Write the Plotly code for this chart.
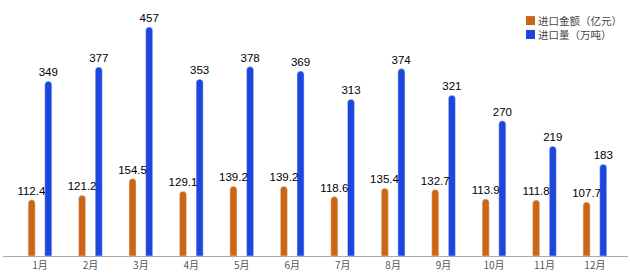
import plotly.graph_objects as go

months = ["1月", "2月", "3月", "4月", "5月", "6月", "7月", "8月", "9月", "10月", "11月", "12月"]
amount = [112.4, 121.2, 154.5, 129.1, 139.2, 139.2, 118.6, 135.4, 132.7, 113.9, 111.8, 107.7]
volume = [349, 377, 457, 353, 378, 369, 313, 374, 321, 270, 219, 183]
amount_name = "进口金额（亿元）"
volume_name = "进口量（万吨）"

ORANGE = "#CC6614"
BLUE = "#1C46DD"
label_font = dict(family="Liberation Sans, Arial", size=11.5, color="#000000")
cjk = "Noto Sans CJK SC"

fig = go.Figure()
# blue first so that the orange labels are drawn on top of the blue bars
fig.add_trace(go.Bar(
    x=months, y=volume, name=volume_name, marker_color=BLUE,
    width=0.14, offset=0.095,
    text=[f"{v}" for v in volume], textposition="outside",
    textfont=label_font, constraintext="none", cliponaxis=False,
    showlegend=False,
))
fig.add_trace(go.Bar(
    x=months, y=amount, name=amount_name, marker_color=ORANGE,
    width=0.14, offset=-0.235,
    text=[f"{v:.1f}" for v in amount], textposition="outside",
    textfont=label_font, constraintext="none", cliponaxis=False,
    showlegend=False,
))

# legend drawn as annotations + swatches
legend_items = [(amount_name, ORANGE, 0.957), (volume_name, BLUE, 0.9004)]
for name, color, yc in legend_items:
    fig.add_shape(type="rect", xref="paper", yref="paper",
                  x0=0.8368, x1=0.8512, y0=yc - 0.0183, y1=yc + 0.0183,
                  fillcolor=color, line_width=0)
    fig.add_annotation(text=name, xref="paper", yref="paper", x=0.8544, y=yc,
                       xanchor="left", yanchor="middle", showarrow=False, borderpad=0,
                       font=dict(family=cjk, size=10.5, color="#444444"))

fig.update_layout(
    width=630, height=277,
    margin=dict(l=3, r=2, t=10, b=21),
    paper_bgcolor="white", plot_bgcolor="white",
    barmode="overlay", barcornerradius=4,
    showlegend=False,
    xaxis=dict(
        range=[-0.733, 11.656], showline=True, linecolor="#aaaaaa", linewidth=1,
        showgrid=False, ticks="", tickfont=dict(family=cjk, size=10, color="#555555"),
    ),
    yaxis=dict(range=[0, 491], visible=False, showgrid=False),
)

fig.write_html("out.html")
